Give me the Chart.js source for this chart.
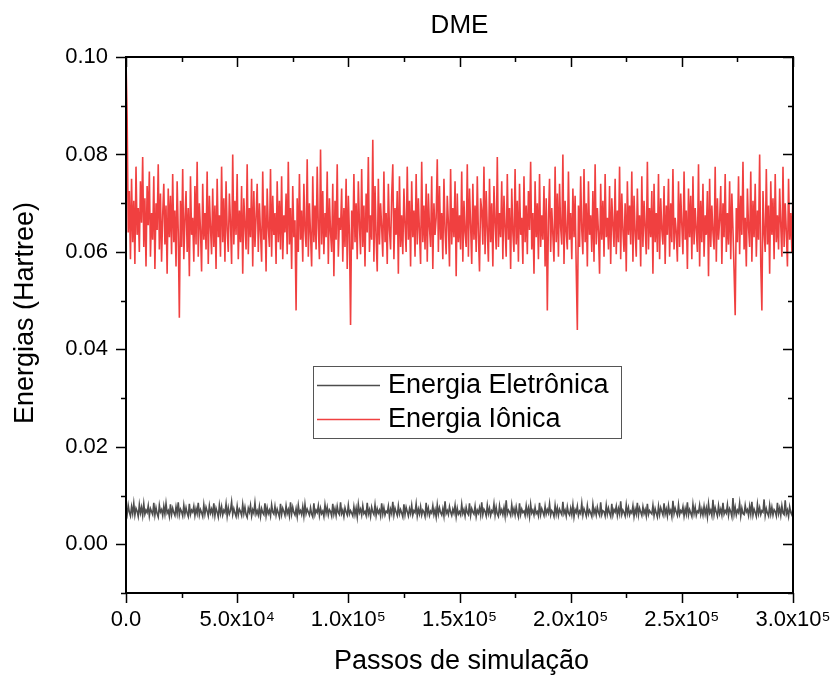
<!DOCTYPE html>
<html>
<head>
<meta charset="utf-8">
<script src="https://cdn.jsdelivr.net/npm/chart.js@4.4.1/dist/chart.umd.min.js"></script>
<style>
  html, body { margin: 0; padding: 0; background: #fff; }
  #wrap { width: 834px; height: 680px; }
</style>
</head>
<body>
<div id="wrap"><canvas id="myChart" width="834" height="680"></canvas></div>
<script>
// amostras a cada 500 passos de simulação
const passoAmostra = 500;

const energiaIonica = [
  0.0995, 0.0880, 0.0640, 0.0725, 0.0585, 0.0750, 0.0620, 0.0705, 0.0575, 0.0775, 0.0635, 0.0690, 0.0600, 0.0745, 0.0660, 0.0795, 0.0610, 0.0710, 0.0570, 0.0735,
  0.0655, 0.0765, 0.0590, 0.0680, 0.0625, 0.0755, 0.0565, 0.0700, 0.0645, 0.0780, 0.0605, 0.0720, 0.0580, 0.0675, 0.0740, 0.0615, 0.0695, 0.0555, 0.0730, 0.0630,
  0.0715, 0.0595, 0.0760, 0.0620, 0.0685, 0.0570, 0.0745, 0.0640, 0.0465, 0.0705, 0.0610, 0.0770, 0.0585, 0.0665, 0.0725, 0.0600, 0.0690, 0.0550, 0.0755, 0.0635,
  0.0670, 0.0580, 0.0735, 0.0615, 0.0785, 0.0590, 0.0700, 0.0645, 0.0560, 0.0740, 0.0625, 0.0680, 0.0605, 0.0765, 0.0575, 0.0715, 0.0650, 0.0595, 0.0730, 0.0610,
  0.0695, 0.0565, 0.0750, 0.0630, 0.0675, 0.0590, 0.0775, 0.0620, 0.0710, 0.0580, 0.0745, 0.0645, 0.0600, 0.0720, 0.0660, 0.0575, 0.0800, 0.0615, 0.0705, 0.0635,
  0.0760, 0.0585, 0.0685, 0.0620, 0.0735, 0.0555, 0.0710, 0.0655, 0.0605, 0.0780, 0.0595, 0.0690, 0.0630, 0.0750, 0.0570, 0.0725, 0.0610, 0.0670, 0.0740, 0.0600,
  0.0700, 0.0640, 0.0580, 0.0765, 0.0625, 0.0695, 0.0560, 0.0730, 0.0650, 0.0610, 0.0770, 0.0590, 0.0715, 0.0635, 0.0680, 0.0575, 0.0745, 0.0620, 0.0705, 0.0605,
  0.0755, 0.0585, 0.0675, 0.0640, 0.0720, 0.0595, 0.0785, 0.0615, 0.0690, 0.0565, 0.0735, 0.0630, 0.0665, 0.0480, 0.0710, 0.0600, 0.0760, 0.0625, 0.0685, 0.0580,
  0.0740, 0.0645, 0.0610, 0.0790, 0.0590, 0.0700, 0.0635, 0.0570, 0.0755, 0.0620, 0.0695, 0.0605, 0.0775, 0.0650, 0.0585, 0.0810, 0.0615, 0.0725, 0.0595, 0.0680,
  0.0630, 0.0765, 0.0575, 0.0710, 0.0640, 0.0600, 0.0740, 0.0550, 0.0705, 0.0625, 0.0780, 0.0590, 0.0670, 0.0645, 0.0730, 0.0580, 0.0690, 0.0610, 0.0750, 0.0565,
  0.0715, 0.0635, 0.0450, 0.0685, 0.0605, 0.0760, 0.0620, 0.0700, 0.0585, 0.0745, 0.0655, 0.0595, 0.0770, 0.0610, 0.0695, 0.0570, 0.0720, 0.0640, 0.0795, 0.0600,
  0.0675, 0.0625, 0.0830, 0.0580, 0.0735, 0.0630, 0.0560, 0.0750, 0.0615, 0.0700, 0.0650, 0.0590, 0.0765, 0.0620, 0.0680, 0.0575, 0.0740, 0.0645, 0.0605, 0.0715,
  0.0780, 0.0585, 0.0690, 0.0635, 0.0725, 0.0555, 0.0755, 0.0610, 0.0675, 0.0595, 0.0730, 0.0655, 0.0600, 0.0775, 0.0625, 0.0705, 0.0570, 0.0745, 0.0630, 0.0685,
  0.0590, 0.0760, 0.0615, 0.0710, 0.0640, 0.0575, 0.0785, 0.0620, 0.0695, 0.0605, 0.0740, 0.0580, 0.0720, 0.0650, 0.0610, 0.0755, 0.0565, 0.0700, 0.0635, 0.0670,
  0.0790, 0.0600, 0.0735, 0.0625, 0.0680, 0.0585, 0.0750, 0.0645, 0.0595, 0.0715, 0.0660, 0.0570, 0.0770, 0.0615, 0.0690, 0.0630, 0.0745, 0.0550, 0.0720, 0.0620,
  0.0675, 0.0605, 0.0765, 0.0580, 0.0705, 0.0640, 0.0610, 0.0780, 0.0590, 0.0730, 0.0655, 0.0575, 0.0740, 0.0625, 0.0695, 0.0600, 0.0755, 0.0635, 0.0560, 0.0710,
  0.0685, 0.0615, 0.0775, 0.0595, 0.0725, 0.0645, 0.0580, 0.0750, 0.0620, 0.0700, 0.0570, 0.0735, 0.0660, 0.0605, 0.0795, 0.0610, 0.0680, 0.0630, 0.0745, 0.0585,
  0.0715, 0.0650, 0.0590, 0.0760, 0.0625, 0.0690, 0.0565, 0.0730, 0.0640, 0.0600, 0.0770, 0.0615, 0.0705, 0.0580, 0.0740, 0.0635, 0.0670, 0.0575, 0.0755, 0.0620,
  0.0695, 0.0595, 0.0725, 0.0645, 0.0785, 0.0605, 0.0680, 0.0555, 0.0745, 0.0630, 0.0700, 0.0585, 0.0760, 0.0610, 0.0675, 0.0625, 0.0735, 0.0570, 0.0710, 0.0480,
  0.0665, 0.0750, 0.0600, 0.0690, 0.0635, 0.0580, 0.0775, 0.0620, 0.0720, 0.0590, 0.0740, 0.0650, 0.0615, 0.0800, 0.0575, 0.0705, 0.0640, 0.0605, 0.0765, 0.0625,
  0.0680, 0.0585, 0.0730, 0.0630, 0.0715, 0.0565, 0.0440, 0.0695, 0.0610, 0.0755, 0.0645, 0.0595, 0.0770, 0.0620, 0.0700, 0.0570, 0.0745, 0.0635, 0.0675, 0.0600,
  0.0725, 0.0580, 0.0780, 0.0615, 0.0690, 0.0640, 0.0555, 0.0740, 0.0625, 0.0705, 0.0590, 0.0760, 0.0630, 0.0670, 0.0605, 0.0735, 0.0575, 0.0710, 0.0655, 0.0610,
  0.0750, 0.0595, 0.0685, 0.0620, 0.0775, 0.0585, 0.0720, 0.0645, 0.0600, 0.0700, 0.0560, 0.0745, 0.0635, 0.0695, 0.0615, 0.0765, 0.0580, 0.0715, 0.0640, 0.0590,
  0.0730, 0.0625, 0.0675, 0.0570, 0.0755, 0.0610, 0.0705, 0.0650, 0.0595, 0.0785, 0.0605, 0.0690, 0.0630, 0.0725, 0.0555, 0.0740, 0.0620, 0.0680, 0.0600, 0.0760,
  0.0585, 0.0710, 0.0645, 0.0615, 0.0735, 0.0575, 0.0695, 0.0635, 0.0750, 0.0590, 0.0700, 0.0620, 0.0770, 0.0605, 0.0670, 0.0640, 0.0580, 0.0745, 0.0610, 0.0720,
  0.0655, 0.0595, 0.0765, 0.0625, 0.0685, 0.0565, 0.0730, 0.0630, 0.0715, 0.0585, 0.0755, 0.0615, 0.0690, 0.0645, 0.0600, 0.0780, 0.0570, 0.0705, 0.0620, 0.0740,
  0.0590, 0.0675, 0.0635, 0.0725, 0.0550, 0.0750, 0.0610, 0.0695, 0.0640, 0.0605, 0.0775, 0.0580, 0.0710, 0.0625, 0.0665, 0.0735, 0.0575, 0.0700, 0.0630, 0.0760,
  0.0600, 0.0680, 0.0615, 0.0745, 0.0585, 0.0720, 0.0645, 0.0560, 0.0470, 0.0690, 0.0620, 0.0755, 0.0595, 0.0715, 0.0635, 0.0785, 0.0605, 0.0670, 0.0570, 0.0730,
  0.0650, 0.0610, 0.0765, 0.0580, 0.0705, 0.0630, 0.0740, 0.0590, 0.0685, 0.0625, 0.0800, 0.0575, 0.0480, 0.0725, 0.0640, 0.0600, 0.0770, 0.0615, 0.0695, 0.0555,
  0.0745, 0.0635, 0.0710, 0.0585, 0.0760, 0.0620, 0.0675, 0.0605, 0.0730, 0.0655, 0.0590, 0.0775, 0.0610, 0.0700, 0.0640, 0.0570, 0.0750, 0.0625, 0.0680, 0.0600,
  0.0735
];

const energiaEletronica = [
  0.0072, 0.0061, 0.0080, 0.0066, 0.0058, 0.0077, 0.0063, 0.0084, 0.0060, 0.0074, 0.0068, 0.0057, 0.0081, 0.0064, 0.0076, 0.0059, 0.0083, 0.0062, 0.0070, 0.0065,
  0.0079, 0.0058, 0.0073, 0.0067, 0.0061, 0.0085, 0.0060, 0.0075, 0.0063, 0.0056, 0.0080, 0.0066, 0.0071, 0.0059, 0.0078, 0.0062, 0.0084, 0.0064, 0.0069, 0.0057,
  0.0082, 0.0061, 0.0074, 0.0065, 0.0059, 0.0077, 0.0063, 0.0086, 0.0060, 0.0072, 0.0067, 0.0058, 0.0080, 0.0062, 0.0075, 0.0064, 0.0057, 0.0083, 0.0061, 0.0070,
  0.0066, 0.0078, 0.0059, 0.0073, 0.0063, 0.0085, 0.0060, 0.0071, 0.0065, 0.0057, 0.0081, 0.0062, 0.0076, 0.0068, 0.0058, 0.0079, 0.0064, 0.0072, 0.0061, 0.0084,
  0.0059, 0.0074, 0.0066, 0.0056, 0.0080, 0.0063, 0.0077, 0.0060, 0.0070, 0.0065, 0.0083, 0.0058, 0.0075, 0.0062, 0.0069, 0.0087, 0.0061, 0.0073, 0.0064, 0.0057,
  0.0078, 0.0060, 0.0072, 0.0067, 0.0059, 0.0082, 0.0063, 0.0076, 0.0061, 0.0055, 0.0074, 0.0066, 0.0080, 0.0058, 0.0071, 0.0064, 0.0085, 0.0062, 0.0069, 0.0060,
  0.0077, 0.0057, 0.0073, 0.0065, 0.0061, 0.0084, 0.0059, 0.0075, 0.0063, 0.0070, 0.0058, 0.0081, 0.0066, 0.0062, 0.0078, 0.0060, 0.0072, 0.0064, 0.0056, 0.0083,
  0.0061, 0.0074, 0.0067, 0.0059, 0.0079, 0.0063, 0.0071, 0.0058, 0.0086, 0.0062, 0.0076, 0.0065, 0.0060, 0.0073, 0.0057, 0.0080, 0.0064, 0.0069, 0.0061, 0.0077,
  0.0058, 0.0082, 0.0063, 0.0072, 0.0066, 0.0060, 0.0075, 0.0062, 0.0056, 0.0084, 0.0061, 0.0070, 0.0065, 0.0079, 0.0059, 0.0074, 0.0063, 0.0068, 0.0057, 0.0081,
  0.0064, 0.0076, 0.0060, 0.0071, 0.0067, 0.0058, 0.0083, 0.0062, 0.0073, 0.0059, 0.0078, 0.0065, 0.0061, 0.0086, 0.0063, 0.0070, 0.0057, 0.0075, 0.0066, 0.0060,
  0.0080, 0.0062, 0.0069, 0.0064, 0.0058, 0.0077, 0.0061, 0.0074, 0.0056, 0.0082, 0.0065, 0.0072, 0.0060, 0.0079, 0.0063, 0.0067, 0.0059, 0.0085, 0.0062, 0.0071,
  0.0057, 0.0076, 0.0066, 0.0061, 0.0081, 0.0059, 0.0073, 0.0064, 0.0070, 0.0058, 0.0084, 0.0062, 0.0075, 0.0060, 0.0068, 0.0065, 0.0078, 0.0057, 0.0072, 0.0063,
  0.0087, 0.0060, 0.0074, 0.0066, 0.0059, 0.0079, 0.0062, 0.0071, 0.0064, 0.0056, 0.0082, 0.0061, 0.0076, 0.0067, 0.0058, 0.0073, 0.0063, 0.0080, 0.0060, 0.0069,
  0.0065, 0.0083, 0.0058, 0.0072, 0.0062, 0.0077, 0.0060, 0.0070, 0.0066, 0.0057, 0.0085, 0.0063, 0.0074, 0.0059, 0.0068, 0.0064, 0.0079, 0.0061, 0.0071, 0.0056,
  0.0081, 0.0062, 0.0075, 0.0065, 0.0060, 0.0073, 0.0058, 0.0088, 0.0063, 0.0069, 0.0061, 0.0077, 0.0066, 0.0059, 0.0072, 0.0064, 0.0080, 0.0057, 0.0074, 0.0062,
  0.0067, 0.0060, 0.0082, 0.0063, 0.0071, 0.0058, 0.0076, 0.0065, 0.0061, 0.0084, 0.0059, 0.0073, 0.0066, 0.0062, 0.0078, 0.0057, 0.0070, 0.0064, 0.0075, 0.0060,
  0.0086, 0.0061, 0.0072, 0.0067, 0.0058, 0.0080, 0.0063, 0.0074, 0.0059, 0.0069, 0.0065, 0.0083, 0.0060, 0.0076, 0.0062, 0.0057, 0.0079, 0.0064, 0.0071, 0.0061,
  0.0075, 0.0058, 0.0090, 0.0062, 0.0070, 0.0066, 0.0059, 0.0081, 0.0063, 0.0073, 0.0060, 0.0077, 0.0064, 0.0056, 0.0084, 0.0061, 0.0072, 0.0065, 0.0068, 0.0059,
  0.0079, 0.0062, 0.0074, 0.0057, 0.0082, 0.0064, 0.0070, 0.0060, 0.0076, 0.0063, 0.0067, 0.0058, 0.0085, 0.0061, 0.0073, 0.0066, 0.0059, 0.0078, 0.0062, 0.0071,
  0.0064, 0.0083, 0.0060, 0.0069, 0.0065, 0.0057, 0.0080, 0.0062, 0.0075, 0.0059, 0.0072, 0.0066, 0.0061, 0.0087, 0.0063, 0.0070, 0.0058, 0.0077, 0.0064, 0.0060,
  0.0074, 0.0061, 0.0081, 0.0056, 0.0071, 0.0065, 0.0078, 0.0059, 0.0068, 0.0063, 0.0084, 0.0060, 0.0073, 0.0066, 0.0058, 0.0079, 0.0062, 0.0070, 0.0064, 0.0057,
  0.0082, 0.0063, 0.0072, 0.0060, 0.0076, 0.0065, 0.0059, 0.0086, 0.0061, 0.0069, 0.0067, 0.0058, 0.0080, 0.0062, 0.0074, 0.0064, 0.0057, 0.0083, 0.0060, 0.0071,
  0.0066, 0.0078, 0.0059, 0.0073, 0.0062, 0.0088, 0.0061, 0.0070, 0.0065, 0.0058, 0.0081, 0.0063, 0.0075, 0.0060, 0.0068, 0.0064, 0.0079, 0.0057, 0.0072, 0.0062,
  0.0085, 0.0060, 0.0074, 0.0066, 0.0059, 0.0077, 0.0063, 0.0071, 0.0058, 0.0083, 0.0061, 0.0069, 0.0065, 0.0062, 0.0080, 0.0059, 0.0073, 0.0064, 0.0056, 0.0078,
  0.0061, 0.0075, 0.0067, 0.0060, 0.0084, 0.0062, 0.0072, 0.0058, 0.0079, 0.0064, 0.0070, 0.0057, 0.0089, 0.0063, 0.0074, 0.0066, 0.0059, 0.0081, 0.0061, 0.0069,
  0.0065, 0.0077, 0.0058, 0.0073, 0.0062, 0.0086, 0.0060, 0.0071, 0.0064, 0.0057, 0.0082, 0.0063, 0.0076, 0.0059, 0.0068, 0.0065, 0.0080, 0.0061, 0.0072, 0.0060,
  0.0078, 0.0062, 0.0074, 0.0056, 0.0083, 0.0064, 0.0070, 0.0059, 0.0091, 0.0061, 0.0075, 0.0066, 0.0058, 0.0079, 0.0063, 0.0072, 0.0060, 0.0085, 0.0062, 0.0069,
  0.0064, 0.0081, 0.0059, 0.0073, 0.0067, 0.0057, 0.0095, 0.0062, 0.0076, 0.0060, 0.0070, 0.0065, 0.0084, 0.0058, 0.0074, 0.0063, 0.0061, 0.0080, 0.0066, 0.0071,
  0.0059, 0.0078, 0.0062, 0.0087, 0.0060, 0.0072, 0.0065, 0.0057, 0.0082, 0.0063, 0.0075, 0.0061, 0.0069, 0.0066, 0.0092, 0.0059, 0.0073, 0.0064, 0.0058, 0.0080,
  0.0062, 0.0076, 0.0060, 0.0071, 0.0067, 0.0058, 0.0085, 0.0063, 0.0074, 0.0059, 0.0079, 0.0064, 0.0061, 0.0090, 0.0062, 0.0070, 0.0057, 0.0077, 0.0065, 0.0060,
  0.0075
];

const passos = energiaIonica.map((v, i) => i * passoAmostra);

const xTicks = [0, 50000, 100000, 150000, 200000, 250000, 300000];
const yTicks = [0.00, 0.02, 0.04, 0.06, 0.08, 0.10];
const cores = ['#4d4d4d', '#f04040'];

const FONTE = '"Liberation Sans", Arial, sans-serif';

const sup = { 4: '\u2074', 5: '\u2075' };
function fmtX(v) {
    if (v === 0) return '0.0';
    const e = Math.floor(Math.log10(v) + 1e-9);
    const m = v / Math.pow(10, e);
    return m.toFixed(1) + 'x10' + sup[e];
}

// moldura, marcas de escala, títulos e legenda no estilo Origin
const molduraPlugin = {
    id: 'moldura',
    afterDraw(chart) {
        const { ctx, chartArea: a, scales } = chart;
        const sx = scales.x, sy = scales.y;
        ctx.save();
        ctx.strokeStyle = '#000';
        ctx.lineWidth = 1.5;
        ctx.beginPath();
        // eixo x: maiores a cada 5e4, menores a cada 2.5e4
        for (let v = 0; v <= 300000; v += 25000) {
            const px = Math.round(sx.getPixelForValue(v)) + 0.5;
            const len = v % 50000 === 0 ? 10 : 5;
            ctx.moveTo(px, a.bottom); ctx.lineTo(px, a.bottom + len);
            ctx.moveTo(px, a.top); ctx.lineTo(px, a.top + len);
        }
        // eixo y: maiores a cada 0.02, menores a cada 0.01
        for (let k = -1; k <= 10; k++) {
            const py = Math.round(sy.getPixelForValue(k / 100)) + 0.5;
            const len = k % 2 === 0 ? 10 : 5;
            ctx.moveTo(a.left, py); ctx.lineTo(a.left - len, py);
            ctx.moveTo(a.right, py); ctx.lineTo(a.right - len, py);
        }
        ctx.stroke();
        ctx.lineWidth = 2;
        ctx.strokeRect(a.left, a.top, a.right - a.left, a.bottom - a.top);

        // títulos
        const cx = (a.left + a.right) / 2;
        ctx.fillStyle = '#000';
        ctx.textAlign = 'center';
        ctx.textBaseline = 'middle';
        ctx.font = '26px ' + FONTE;
        ctx.fillText('DME', cx, 26);
        ctx.font = '27px ' + FONTE;
        ctx.fillText('Passos de simulação', cx + 2, 662);
        ctx.save();
        ctx.translate(26, 313);
        ctx.rotate(-Math.PI / 2);
        ctx.fillText('Energias (Hartree)', 0, 0);
        ctx.restore();

        // legenda
        const lx = Math.round(a.left + 0.281 * (a.right - a.left));
        const ly = Math.round(a.top + 0.577 * (a.bottom - a.top));
        const lw = 308, lh = 72;
        ctx.fillStyle = '#fff';
        ctx.fillRect(lx, ly, lw, lh);
        ctx.lineWidth = 1;
        ctx.strokeStyle = '#555';
        ctx.strokeRect(lx + 0.5, ly + 0.5, lw, lh);
        ctx.font = '27px ' + FONTE;
        ctx.textAlign = 'left';
        ctx.textBaseline = 'middle';
        chart.data.datasets.forEach((ds, i) => {
            const yy = ly + 19 + i * 34;
            ctx.strokeStyle = cores[i];
            ctx.lineWidth = 1.3;
            ctx.beginPath();
            ctx.moveTo(lx + 4, yy + 0.5);
            ctx.lineTo(lx + 67, yy + 0.5);
            ctx.stroke();
            ctx.fillStyle = '#000';
            ctx.fillText(ds.label, lx + 75, yy + 1);
        });
        ctx.restore();
    }
};

Chart.defaults.font.family = FONTE;
Chart.defaults.color = '#000';

new Chart(document.getElementById('myChart'), {
    type: 'line',
    data: {
        datasets: [{
            label: 'Energia Eletrônica',
            data: passos.map((x, i) => ({ x: x, y: energiaEletronica[i] })),
            borderColor: cores[0],
            borderWidth: 1.6,
            pointRadius: 0,
            tension: 0
        }, {
            label: 'Energia Iônica',
            data: passos.map((x, i) => ({ x: x, y: energiaIonica[i] })),
            borderColor: cores[1],
            borderWidth: 1.6,
            pointRadius: 0,
            tension: 0
        }]
    },
    options: {
        responsive: false,
        animation: false,
        devicePixelRatio: 1,
        layout: { padding: { top: 57, right: 41, bottom: 0, left: 0 } },
        plugins: {
            legend: { display: false },
            tooltip: { enabled: false },
            title: { display: false }
        },
        scales: {
            x: {
                type: 'linear',
                min: 0,
                max: 300000,
                afterFit: (s) => { s.height = 87; s.paddingLeft = 0; s.paddingRight = 0; },
                afterBuildTicks: (s) => { s.ticks = xTicks.map(v => ({ value: v })); },
                grid: { display: false, drawTicks: false },
                border: { display: false },
                ticks: {
                    autoSkip: false,
                    maxRotation: 0,
                    padding: 14,
                    font: { size: 22 },
                    callback: (v) => fmtX(v)
                }
            },
            y: {
                min: -0.01,
                max: 0.10,
                afterFit: (s) => { s.width = 126; s.paddingTop = 0; s.paddingBottom = 0; },
                afterBuildTicks: (s) => { s.ticks = yTicks.map(v => ({ value: v })); },
                grid: { display: false, drawTicks: false },
                border: { display: false },
                ticks: {
                    padding: 18,
                    font: { size: 22 },
                    callback: (v) => v.toFixed(2)
                }
            }
        }
    },
    plugins: [molduraPlugin]
});
</script>
</body>
</html>
